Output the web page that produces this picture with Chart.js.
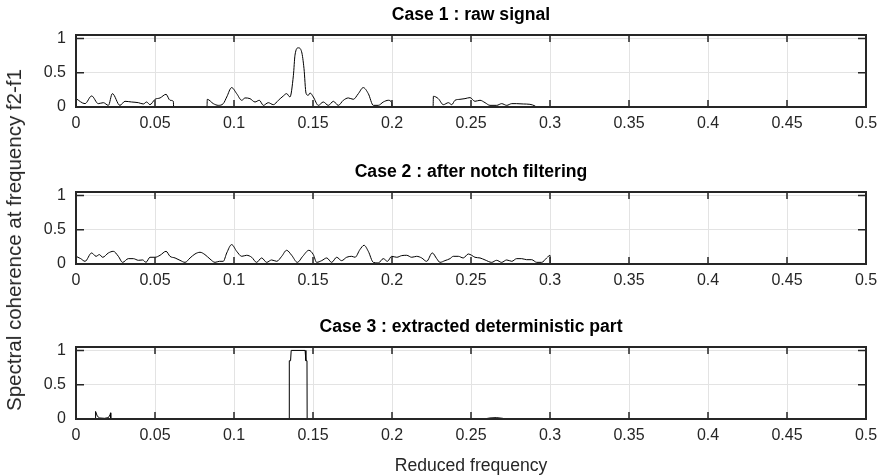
<!DOCTYPE html>
<html><head><meta charset="utf-8">
<script src="https://cdn.jsdelivr.net/npm/chart.js@4"></script>
<style>
html,body{margin:0;padding:0;background:#fff;}
#wrap{position:relative;width:878px;height:475px;overflow:hidden;background:#fff;}
canvas{position:absolute;left:0;}
#ylab{position:absolute;left:14px;top:240px;transform:translate(-50%,-50%) rotate(-90deg);font:20.5px 'Liberation Sans',Arial,sans-serif;color:#262626;white-space:nowrap;}
</style></head><body>
<div id="wrap">
<canvas id="c1" width="878" height="137" style="top:0px"></canvas>
<canvas id="c2" width="878" height="137" style="top:157px"></canvas>
<canvas id="c3" width="878" height="163" style="top:312px"></canvas>
<div id="ylab">Spectral coherence at frequency f2-f1</div>
</div>
<script>
const titles = ["Case 1 : raw signal", "Case 2 : after notch filtering", "Case 3 : extracted deterministic part"];
const xAxisTitle = "Reduced frequency";
const xTickValues = [0, 0.05, 0.1, 0.15, 0.2, 0.25, 0.3, 0.35, 0.4, 0.45, 0.5];
const xTickLabels = ["0", "0.05", "0.1", "0.15", "0.2", "0.25", "0.3", "0.35", "0.4", "0.45", "0.5"];
const yTickValues = [0, 0.5, 1];
const yTickLabels = ["0", "0.5", "1"];

const case1X = [0, .0057, .0099, .0141, .0173, .0205, .0230, .0278, .0310, .0352,
  .0395, .0426, .0447, .0468, .0500, .0532, .0570, .0595, .0616, .0618,
  .0829, .0831, .0869, .0901, .0932, .0954, .0985, .1017, .1049, .1070,
  .1101, .1133, .1160, .1186, .1217, .1249, .1281, .1312, .1333, .1354,
  .1376, .1386, .1407, .1428, .1443, .1456, .1470, .1481, .1502, .1534,
  .1565, .1597, .1629, .1660, .1692, .1724, .1755, .1787, .1818, .1850,
  .1882, .1913, .1945, .1977, .1998, .2000, .2260, .2262, .2293, .2325,
  .2357, .2378, .2399, .2430, .2462, .2494, .2525, .2557, .2589, .2620,
  .2663, .2694, .2726, .2758, .2789, .2831, .2873, .2905, .2915, .5];
const case1Y = [.122, .049, .161, .049, .063, .024, .195, .024, .083, .073,
  .063, .044, .073, .034, .112, .132, .185, .098, .083, 0,
  0, .112, .049, .024, .049, .146, .283, .195, .098, .132,
  .122, .073, .098, .024, .063, .034, .098, .161, .195, .146,
  .463, .756, .863, .805, .561, .200, .170, .205, .146, .024,
  .073, .024, .083, .024, .098, .132, .112, .195, .283, .195,
  .024, .024, .073, .098, .063, 0, 0, .156, .122, .034,
  .063, .034, .098, .112, .122, .137, .083, .098, .063, .024,
  .024, .049, .024, .049, .049, .044, .039, .015, 0, 0];

const case2X = [0, .0030, .0057, .0099, .0127, .0148, .0169, .0205, .0236, .0268,
  .0295, .0331, .0363, .0395, .0422, .0443, .0468, .0500, .0532, .0570,
  .0595, .0627, .0658, .0690, .0722, .0753, .0785, .0816, .0848, .0880,
  .0907, .0932, .0954, .0985, .1017, .1049, .1080, .1112, .1143, .1175,
  .1207, .1238, .1270, .1302, .1333, .1365, .1401, .1435, .1474, .1502,
  .1523, .1555, .1587, .1618, .1650, .1681, .1713, .1745, .1766, .1797,
  .1823, .1850, .1882, .1913, .1945, .1971, .1998, .2030, .2061, .2093,
  .2125, .2156, .2188, .2219, .2255, .2283, .2304, .2335, .2367, .2388,
  .2420, .2451, .2483, .2504, .2525, .2557, .2589, .2631, .2662, .2694,
  .2726, .2758, .2789, .2821, .2852, .2884, .2916, .2947, .2979, .3000,
  .3003, .5];
const case2Y = [.112, .078, .039, .161, .112, .137, .098, .161, .185, .112,
  .024, .078, .078, .054, .059, .024, .098, .098, .127, .185,
  .112, .088, .054, .024, .088, .146, .171, .137, .073, .024,
  .039, .039, .161, .283, .185, .112, .127, .098, .024, .088,
  .024, .059, .039, .112, .200, .127, .024, .112, .200, .137,
  .024, .049, .088, .024, .098, .049, .098, .112, .098, .210,
  .273, .185, .024, .015, .078, .039, .112, .098, .122, .127,
  .098, .112, .088, .039, .161, .078, .024, .049, .078, .112,
  .112, .088, .146, .127, .098, .088, .059, .024, .054, .024,
  .059, .039, .078, .078, .063, .063, .024, .024, .088, .127,
  0, 0];

const case3X = [0, .0123, .0124, .0135, .0150, .0180, .0205, .0215, .0219, .0220,
  .1349, .1350, .1358, .1362, .1450, .1455, .1462, .1463, .2580, .2620,
  .2660, .2700, .2720, .5];
const case3Y = [0, 0, .11, .04, .015, .01, .02, .06, .09, 0,
  0, .85, .85, 1.0, 1.0, .85, .85, 0, 0, .015,
  .02, .01, 0, 0];

const FONT = "'Liberation Sans', Arial, sans-serif";
const AXIS = '#262626';

const boxPlugin = {
  id: 'box',
  afterDraw(chart) {
    const {ctx, chartArea: a, scales: {x, y}} = chart;
    ctx.save();
    ctx.strokeStyle = AXIS;
    ctx.lineWidth = 1.5;
    ctx.beginPath();
    xTickValues.forEach(v => {
      const px = x.getPixelForValue(v);
      ctx.moveTo(px, a.bottom); ctx.lineTo(px, a.bottom - 7);
      ctx.moveTo(px, a.top); ctx.lineTo(px, a.top + 7);
    });
    yTickValues.forEach(v => {
      const py = y.getPixelForValue(v);
      ctx.moveTo(a.left, py); ctx.lineTo(a.left + 8, py);
      ctx.moveTo(a.right, py); ctx.lineTo(a.right - 8, py);
    });
    ctx.stroke();
    ctx.lineWidth = 2;
    ctx.strokeRect(a.left, a.top, a.right - a.left, a.bottom - a.top);
    ctx.restore();
  }
};

function makeChart(id, title, xs, ys, smooth, withXTitle, xAxisH) {
  const data = xs.map((v, i) => ({x: v, y: ys[i]}));
  return new Chart(document.getElementById(id), {
    type: 'line',
    data: {datasets: [{
      data: data,
      borderColor: '#000',
      borderWidth: 1,
      pointRadius: 0,
      fill: false,
      tension: smooth ? 0.4 : 0,
      cubicInterpolationMode: smooth ? 'monotone' : 'default'
    }]},
    options: {
      responsive: false,
      animation: false,
      devicePixelRatio: 1,
      layout: {padding: {left: 0, right: 12, top: 0, bottom: 0}},
      plugins: {
        legend: {display: false},
        tooltip: {enabled: false},
        title: {
          display: true, text: title, color: '#000', fullSize: false,
          font: {family: FONT, size: 17.6, weight: 'bold', lineHeight: 1.2},
          padding: {top: 4.2, bottom: 9.68}
        }
      },
      scales: {
        x: {
          type: 'linear', min: 0, max: 0.5,
          afterBuildTicks: s => { s.ticks = xTickValues.map(v => ({value: v})); },
          afterFit: s => { s.height = xAxisH; s.paddingLeft = 0; s.paddingRight = 0; },
          ticks: {
            callback: (v, i) => xTickLabels[i],
            color: AXIS, font: {family: FONT, size: 16}, padding: 7,
            maxRotation: 0, autoSkip: false
          },
          grid: {color: '#e3e3e3', lineWidth: 1, drawTicks: false},
          border: {display: false},
          title: {
            display: withXTitle, text: xAxisTitle, color: AXIS,
            font: {family: FONT, size: 17.6, lineHeight: 1},
            padding: {top: 0, bottom: 0}
          }
        },
        y: {
          type: 'linear', min: 0, max: 1.05,
          afterBuildTicks: s => { s.ticks = yTickValues.map(v => ({value: v})); },
          afterFit: s => { s.width = 76; s.paddingTop = 0; s.paddingBottom = 0; },
          ticks: {
            callback: (v, i) => yTickLabels[i],
            color: AXIS, font: {family: FONT, size: 16}, padding: 10
          },
          grid: {color: '#e3e3e3', lineWidth: 1, drawTicks: false},
          border: {display: false}
        }
      }
    },
    plugins: [boxPlugin]
  });
}

makeChart('c1', titles[0], case1X, case1Y, true, false, 30);
makeChart('c2', titles[1], case2X, case2Y, true, false, 30);
makeChart('c3', titles[2], case3X, case3Y, false, true, 56);
</script>
</body></html>
